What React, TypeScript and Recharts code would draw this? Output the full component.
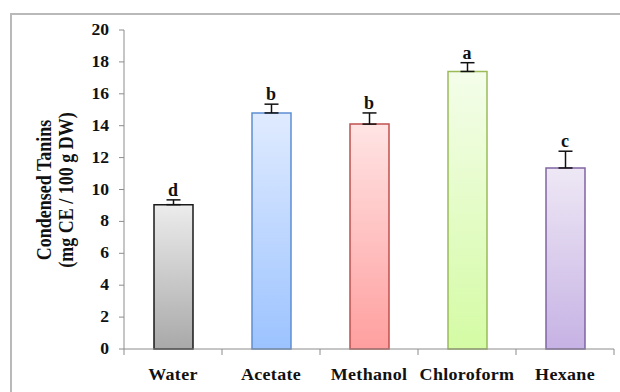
import {
  Bar,
  Cell,
  ComposedChart,
  ErrorBar,
  LabelList,
  Line,
  XAxis,
  YAxis,
} from 'recharts'

const CATEGORIES = ['Water', 'Acetate', 'Methanol', 'Chloroform', 'Hexane']
const TANNINS = [9.05, 14.8, 14.1, 17.4, 11.35]
const ERRORS = [0.3, 0.55, 0.7, 0.55, 1.05]
const LETTERS = ['d', 'b', 'b', 'a', 'c']
const Y_TICKS = [0, 2, 4, 6, 8, 10, 12, 14, 16, 18, 20]

/** top = lighter, bottom = saturated, like the Excel gradient fill */
const FILLS = [
  { top: '#ececec', bottom: '#a9a9a9', stroke: '#1a1a1a' },
  { top: '#e0ebff', bottom: '#9cc3ff', stroke: '#5d8fd3' },
  { top: '#ffe4e4', bottom: '#ff9f9f', stroke: '#c0504d' },
  { top: '#f4fdea', bottom: '#d4fba4', stroke: '#9bbb59' },
  { top: '#eee8f5', bottom: '#c6b2e4', stroke: '#8064a2' },
]

const W = 620
const H = 392
const MARGIN = { top: 30, right: 6, bottom: 13, left: 84 }
const Y_AXIS_W = 40
const BAND = (W - MARGIN.left - MARGIN.right - Y_AXIS_W) / CATEGORIES.length
const TICK_SIZE = 5
const TICK_MARGIN = 6
const FONT = '"Liberation Serif", "Times New Roman", serif'
const AXIS_GREY = '#8c8c8c'

const data = CATEGORIES.map((name, i) => ({
  name,
  value: TANNINS[i],
  err: [0, ERRORS[i]],
  top: TANNINS[i] + ERRORS[i],
  letter: LETTERS[i],
}))

function CategoryTick(props: any) {
  const { x, y, payload, index } = props
  // axis line sits above the text anchor by tick size + margin
  const axisY = y - TICK_SIZE - TICK_MARGIN
  return (
    <g>
      <line x1={x + BAND / 2} x2={x + BAND / 2} y1={axisY} y2={axisY + 6} stroke={AXIS_GREY} />
      {index === 0 && (
        <line x1={x - BAND / 2} x2={x - BAND / 2} y1={axisY} y2={axisY + 6} stroke={AXIS_GREY} />
      )}
      <text
        transform={`translate(${x},${axisY + 31}) scale(1.06,1)`}
        textAnchor="middle"
        fontFamily={FONT}
        fontWeight="bold"
        fontSize={17}
        letterSpacing={0.3}
        fill="#111"
      >
        {payload.value}
      </text>
    </g>
  )
}

function ValueTick(props: any) {
  const { x, y, payload } = props
  return (
    <text
      transform={`translate(${x - 3},${y + 5}) scale(1.1,1)`}
      textAnchor="end"
      fontFamily={FONT}
      fontWeight="bold"
      fontSize={16}
      fill="#111"
    >
      {payload.value}
    </text>
  )
}

function YTitle() {
  return (
    <g fontFamily={FONT} fontWeight="bold" fontSize={18} fill="#111" textAnchor="middle">
      <text transform="translate(51,190) rotate(-90) scale(1,1.15)">Condensed Tanins</text>
      <text transform="translate(73,190) rotate(-90) scale(1,1.15)">(mg CE / 100 g DW)</text>
    </g>
  )
}

export default function App() {
  return (
    <div style={{ position: 'absolute', left: 0, top: 0, width: W, height: H, overflow: 'hidden', background: '#fff' }}>
      <div
        style={{
          position: 'absolute',
          left: 10,
          top: 13,
          width: W,
          height: H,
          border: '2px solid #b9b9b9',
          boxSizing: 'border-box',
        }}
      />
      <div style={{ position: 'absolute', left: 0, top: 0 }}>
        <ComposedChart width={W} height={H} data={data} margin={MARGIN}>
          <defs>
            {FILLS.map((f, i) => (
              <linearGradient key={i} id={`fill${i}`} x1="0" y1="0" x2="0" y2="1">
                <stop offset="0%" stopColor={f.top} />
                <stop offset="100%" stopColor={f.bottom} />
              </linearGradient>
            ))}
          </defs>
          <XAxis
            dataKey="name"
            stroke={AXIS_GREY}
            tickLine={false}
            tickSize={TICK_SIZE}
            tickMargin={TICK_MARGIN}
            tick={<CategoryTick />}
            height={30}
            interval={0}
          />
          <YAxis
            domain={[0, 20]}
            ticks={Y_TICKS}
            width={Y_AXIS_W}
            stroke={AXIS_GREY}
            tickSize={5}
            tickMargin={7}
            interval={0}
            tick={<ValueTick />}
          />
          <Bar dataKey="value" barSize={39} isAnimationActive={false} strokeWidth={1.5}>
            {FILLS.map((f, i) => (
              <Cell key={i} fill={`url(#fill${i})`} stroke={f.stroke} />
            ))}
            <ErrorBar dataKey="err" width={7} stroke="#111" strokeWidth={1.5} isAnimationActive={false} />
          </Bar>
          <Line
            dataKey="top"
            stroke="none"
            dot={false}
            activeDot={false}
            legendType="none"
            isAnimationActive={false}
          >
            <LabelList
              dataKey="letter"
              position="top"
              offset={4}
              fill="#111"
              fontFamily={FONT}
              fontWeight="bold"
              fontSize={18}
            />
          </Line>
          <YTitle />
        </ComposedChart>
      </div>
    </div>
  )
}
